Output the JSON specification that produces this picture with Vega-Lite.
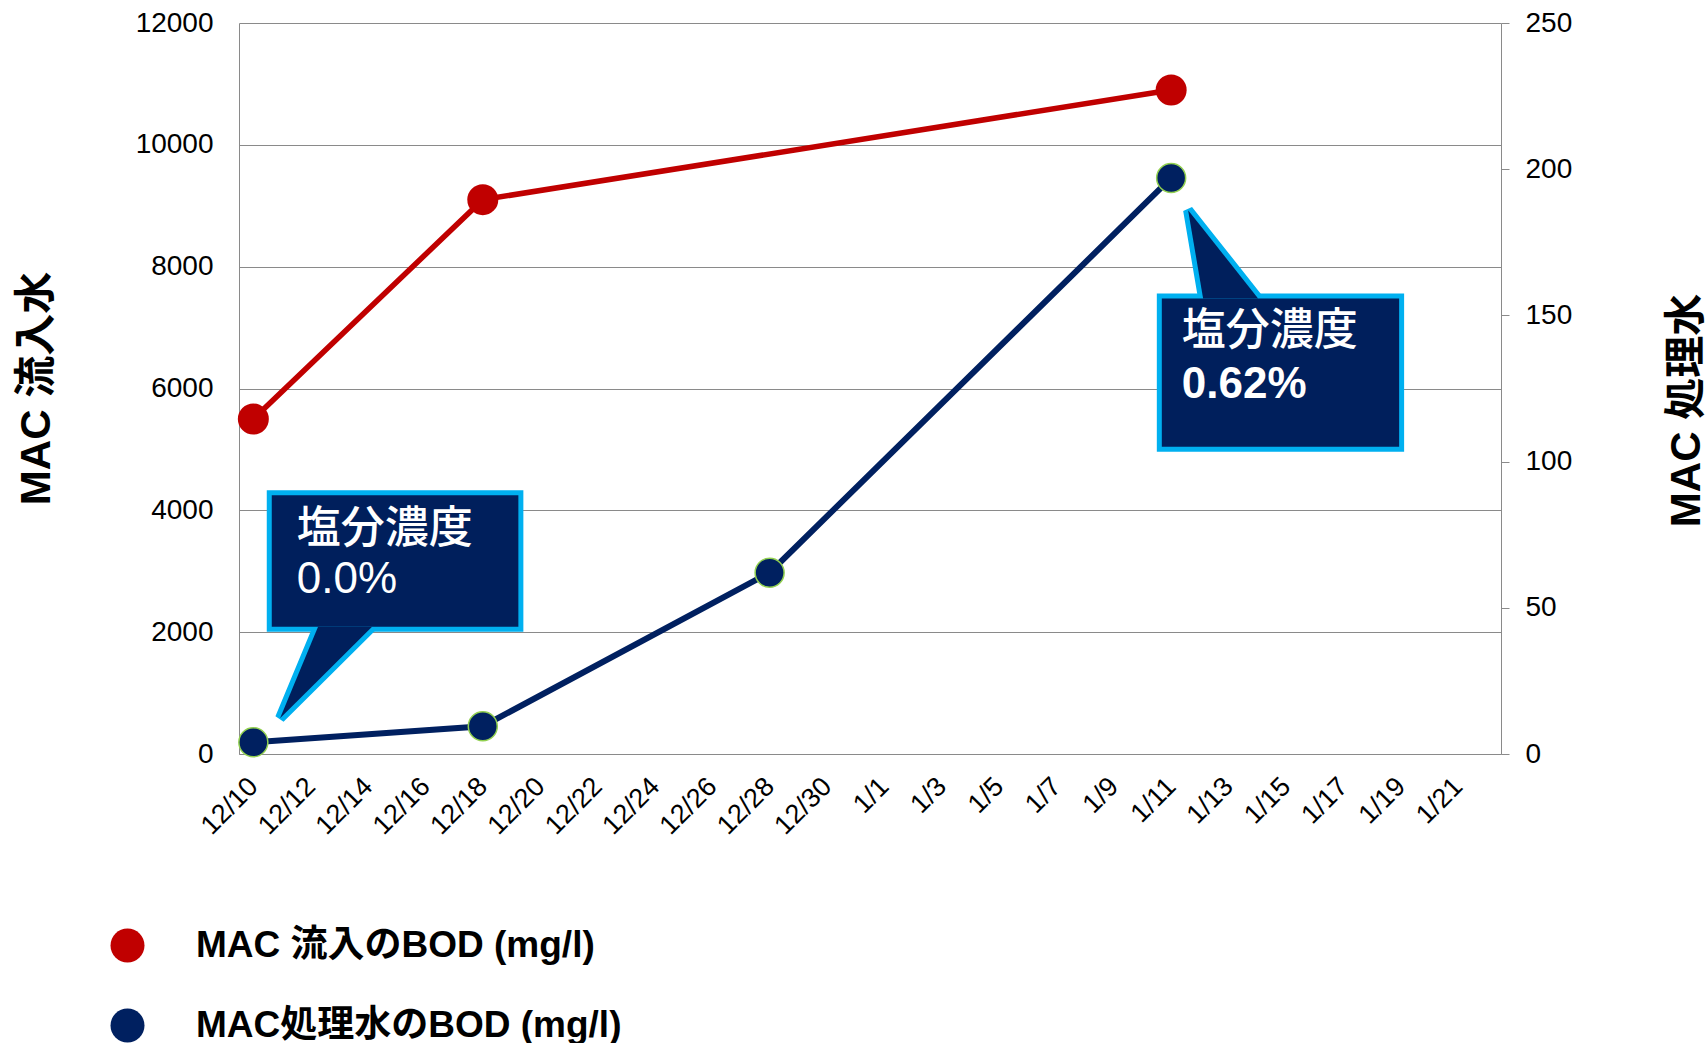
{
  "$schema": "https://vega.github.io/schema/vega-lite/v6.json",
  "width": 1262,
  "height": 731,
  "autosize": {"type": "none"},
  "padding": {"left": 239, "top": 23, "right": 207, "bottom": 289},
  "background": "white",
  "config": {
    "view": {"stroke": null},
    "axis": {
      "labelFont": "Liberation Sans",
      "labelFontSize": 28,
      "labelColor": "#000000",
      "domainColor": "#8a8a8a",
      "domainWidth": 1,
      "gridColor": "#8a8a8a",
      "gridWidth": 1,
      "tickColor": "#8a8a8a",
      "titleFont": "Liberation Sans, Noto Sans CJK JP",
      "titleFontWeight": "bold",
      "titleFontSize": 42,
      "titleColor": "#000000"
    }
  },
  "datasets": {
    "bod": [
      {"date": "2008-12-10", "series": "MAC 流入のBOD (mg/l)", "value": 5500},
      {"date": "2008-12-18", "series": "MAC 流入のBOD (mg/l)", "value": 9100},
      {"date": "2009-01-11", "series": "MAC 流入のBOD (mg/l)", "value": 10900},
      {"date": "2008-12-10", "series": "MAC処理水のBOD (mg/l)", "value": 4},
      {"date": "2008-12-18", "series": "MAC処理水のBOD (mg/l)", "value": 9.5},
      {"date": "2008-12-28", "series": "MAC処理水のBOD (mg/l)", "value": 62},
      {"date": "2009-01-11", "series": "MAC処理水のBOD (mg/l)", "value": 197}
    ],
    "boxes": [
      {"callout": "a", "date": "2008-12-10T15:25:00Z", "date2": "2008-12-19T05:46:00Z", "value": 2087, "value2": 4249},
      {"callout": "b", "date": "2009-01-10T16:11:00Z", "date2": "2009-01-18T22:45:00Z", "value": 5042, "value2": 7478}
    ],
    "pointers": [
      {"callout": "a", "date": "2008-12-10T22:21:00Z", "value": 588, "value2": 588},
      {"callout": "a", "date": "2008-12-12T06:09:00Z", "value": 2087, "value2": 1207},
      {"callout": "a", "date": "2008-12-14T03:20:00Z", "value": 2087, "value2": 2087},
      {"callout": "b", "date": "2009-01-11T14:11:00Z", "value": 8928, "value2": 8928},
      {"callout": "b", "date": "2009-01-12T02:44:00Z", "value": 8618, "value2": 7478},
      {"callout": "b", "date": "2009-01-14T00:46:00Z", "value": 7478, "value2": 7478}
    ],
    "notes": [
      {"callout": "a", "row": "head", "date": "2008-12-11T12:19:00Z", "value": 3680, "text": "塩分濃度"},
      {"callout": "a", "row": "value", "date": "2008-12-11T12:19:00Z", "value": 2850, "text": "0.0%"},
      {"callout": "b", "row": "head", "date": "2009-01-11T08:53:00Z", "value": 6926, "text": "塩分濃度"},
      {"callout": "b", "row": "value", "date": "2009-01-11T08:53:00Z", "value": 6051, "text": "0.62%"}
    ]
  },
  "encoding": {
    "x": {
      "field": "date", "type": "temporal",
      "scale": {"type": "utc", "domain": [{"year": 2008, "month": 12, "date": 9, "hours": 12, "utc": true}, {"year": 2009, "month": 1, "date": 22, "hours": 12, "utc": true}]},
      "axis": {
        "title": null,
        "grid": false,
        "ticks": false,
        "domain": true,
        "labelExpr": "utcFormat(datum.value, '%-m/%-d')",
        "labelFontSize": 27,
        "labelAngle": -45,
        "labelAlign": "right",
        "labelBaseline": "middle",
        "labelPadding": 28,
        "labelOverlap": false,
        "labelBound": false,
        "values": [
          {"year": 2008, "month": 12, "date": 10, "utc": true},
          {"year": 2008, "month": 12, "date": 12, "utc": true},
          {"year": 2008, "month": 12, "date": 14, "utc": true},
          {"year": 2008, "month": 12, "date": 16, "utc": true},
          {"year": 2008, "month": 12, "date": 18, "utc": true},
          {"year": 2008, "month": 12, "date": 20, "utc": true},
          {"year": 2008, "month": 12, "date": 22, "utc": true},
          {"year": 2008, "month": 12, "date": 24, "utc": true},
          {"year": 2008, "month": 12, "date": 26, "utc": true},
          {"year": 2008, "month": 12, "date": 28, "utc": true},
          {"year": 2008, "month": 12, "date": 30, "utc": true},
          {"year": 2009, "month": 1, "date": 1, "utc": true},
          {"year": 2009, "month": 1, "date": 3, "utc": true},
          {"year": 2009, "month": 1, "date": 5, "utc": true},
          {"year": 2009, "month": 1, "date": 7, "utc": true},
          {"year": 2009, "month": 1, "date": 9, "utc": true},
          {"year": 2009, "month": 1, "date": 11, "utc": true},
          {"year": 2009, "month": 1, "date": 13, "utc": true},
          {"year": 2009, "month": 1, "date": 15, "utc": true},
          {"year": 2009, "month": 1, "date": 17, "utc": true},
          {"year": 2009, "month": 1, "date": 19, "utc": true},
          {"year": 2009, "month": 1, "date": 21, "utc": true}
        ]
      }
    }
  },
  "layer": [
    {
      "encoding": {
        "y": {
          "field": "value", "type": "quantitative",
          "scale": {"domain": [0, 12000], "nice": false},
          "axis": {
            "orient": "left",
            "title": "MAC 流入水",
            "titleX": -203,
            "titleY": 365,
            "titleAngle": -90,
            "titleAlign": "center",
            "titleBaseline": "middle",
            "values": [0, 2000, 4000, 6000, 8000, 10000, 12000],
            "format": "d",
            "grid": true,
            "ticks": false,
            "domain": true,
            "labelPadding": 26
          }
        }
      },
      "layer": [
        {
          "data": {"name": "bod"},
          "transform": [{"filter": "datum.series === 'MAC 流入のBOD (mg/l)'"}],
          "mark": {"type": "line", "color": "#C00000", "strokeWidth": 5.5}
        },
        {
          "data": {"name": "bod"},
          "transform": [{"filter": "datum.series === 'MAC 流入のBOD (mg/l)'"}],
          "mark": {"type": "point", "filled": true, "size": 961, "opacity": 1, "shape": "circle"},
          "encoding": {
            "color": {
              "field": "series", "type": "nominal",
              "scale": {"domain": ["MAC 流入のBOD (mg/l)", "MAC処理水のBOD (mg/l)"], "range": ["#C00000", "#002060"]},
              "legend": {
                "title": null,
                "orient": "none",
                "legendX": -130,
                "legendY": 904,
                "direction": "vertical",
                "padding": 0,
                "symbolType": "circle",
                "symbolSize": 1156,
                "symbolStrokeWidth": 0,
                "symbolOpacity": 1,
                "labelFont": "Liberation Sans, Noto Sans CJK JP",
                "labelFontSize": 37,
                "labelFontWeight": "bold",
                "labelColor": "#000000",
                "labelLimit": 1000,
                "labelOffset": 50,
                "rowPadding": 42
              }
            }
          }
        },
        {
          "data": {"name": "pointers"},
          "mark": {"type": "area", "color": "#00B0F0", "stroke": "#00B0F0", "strokeWidth": 10, "strokeJoin": "miter", "opacity": 1},
          "encoding": {
            "y2": {"field": "value2"},
            "detail": {"field": "callout", "type": "nominal"}
          }
        },
        {
          "data": {"name": "boxes"},
          "mark": {"type": "rect", "color": "#00B0F0", "stroke": "#00B0F0", "strokeWidth": 10, "strokeJoin": "miter", "opacity": 1},
          "encoding": {
            "x2": {"field": "date2"},
            "y2": {"field": "value2"}
          }
        },
        {
          "data": {"name": "pointers"},
          "mark": {"type": "area", "color": "#001F5C", "opacity": 1},
          "encoding": {
            "y2": {"field": "value2"},
            "detail": {"field": "callout", "type": "nominal"}
          }
        },
        {
          "data": {"name": "boxes"},
          "mark": {"type": "rect", "color": "#001F5C", "opacity": 1},
          "encoding": {
            "x2": {"field": "date2"},
            "y2": {"field": "value2"}
          }
        },
        {
          "data": {"name": "notes"},
          "transform": [{"filter": "datum.row === 'head'"}],
          "mark": {"type": "text", "align": "left", "baseline": "middle", "color": "#FFFFFF", "font": "Noto Sans CJK JP", "fontSize": 44, "fontWeight": 500},
          "encoding": {"text": {"field": "text"}}
        },
        {
          "data": {"name": "notes"},
          "transform": [{"filter": "datum.row === 'value' && datum.callout === 'a'"}],
          "mark": {"type": "text", "align": "left", "baseline": "middle", "color": "#FFFFFF", "font": "Liberation Sans", "fontSize": 44},
          "encoding": {"text": {"field": "text"}}
        },
        {
          "data": {"name": "notes"},
          "transform": [{"filter": "datum.row === 'value' && datum.callout === 'b'"}],
          "mark": {"type": "text", "align": "left", "baseline": "middle", "color": "#FFFFFF", "font": "Liberation Sans", "fontSize": 44, "fontWeight": "bold"},
          "encoding": {"text": {"field": "text"}}
        }
      ]
    },
    {
      "data": {"name": "bod"},
      "transform": [{"filter": "datum.series === 'MAC処理水のBOD (mg/l)'"}],
      "encoding": {
        "y": {
          "field": "value", "type": "quantitative",
          "scale": {"domain": [0, 250], "nice": false},
          "axis": {
            "orient": "right",
            "title": "MAC 処理水",
            "titleX": 185,
            "titleY": 387,
            "titleAngle": -90,
            "titleAlign": "center",
            "titleBaseline": "middle",
            "values": [0, 50, 100, 150, 200, 250],
            "format": "d",
            "grid": false,
            "ticks": true,
            "tickSize": 8,
            "domain": true,
            "labelPadding": 16
          }
        }
      },
      "layer": [
        {
          "mark": {"type": "line", "color": "#002060", "strokeWidth": 6}
        },
        {
          "mark": {"type": "point", "filled": true, "size": 841, "opacity": 1, "shape": "circle", "stroke": "#92D050", "strokeWidth": 1.5},
          "encoding": {
            "color": {"field": "series", "type": "nominal"}
          }
        }
      ]
    }
  ],
  "resolve": {"scale": {"y": "independent"}}
}
